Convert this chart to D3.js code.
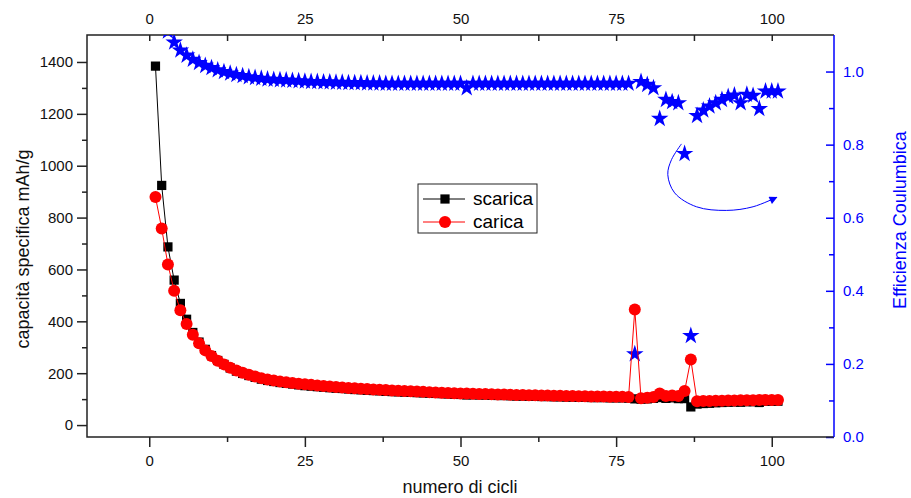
<!DOCTYPE html>
<html>
<head>
<meta charset="utf-8">
<script src="https://cdn.jsdelivr.net/npm/d3@7"></script>
<style>
  body { margin: 0; background: #fff; }
  text { font-family: "Liberation Sans", Arial, sans-serif; }
</style>
</head>
<body>
<svg id="chart" width="911" height="498"></svg>
<script>
// numero di cicli 1..101
let cycles = d3.range(1, 102);

// capacità di scarica (mAh/g)
let scarica = [1384, 924, 687, 559, 469, 408, 357, 320, 292, 268,
  249, 234, 220, 208, 199, 191, 184, 177, 172, 168,
  164, 161, 158, 155, 152, 150, 148, 146, 144, 142,
  141, 139, 137, 136, 134, 133, 132, 130, 129, 128,
  127, 126, 125, 124, 123, 122, 121, 120, 119, 118,
  116, 117, 116, 116, 115, 114, 114, 113, 112, 112,
  111, 111, 110, 110, 109, 109, 108, 108, 107, 107,
  106, 106, 106, 105, 105, 105, 104, 101, 100, 101,
  103, 106, 103, 105, 102, 102, 70, 81, 83, 84,
  86, 87, 88, 89, 88, 90, 90, 87, 92, 92, 92];

// capacità di carica (mAh/g)
let carica = [879, 758, 619, 518, 443, 390, 348, 315, 288, 266,
  248, 234, 221, 210, 202, 194, 187, 181, 176, 172,
  168, 165, 162, 159, 157, 155, 153, 151, 149, 147,
  145, 143, 142, 140, 139, 137, 136, 135, 133, 132,
  131, 130, 129, 128, 127, 126, 125, 124, 123, 122,
  122, 121, 120, 120, 119, 118, 118, 117, 116, 116,
  115, 115, 114, 114, 113, 113, 112, 112, 111, 111,
  110, 110, 110, 109, 109, 109, 108, 446, 103, 105,
  108, 122, 112, 114, 112, 131, 253, 92, 93, 93,
  94, 94, 95, 95, 96, 96, 96, 97, 97, 97, 97];

// efficienza coulumbica
let efficienza = [1.57, 1.22, 1.11, 1.080, 1.058, 1.044, 1.033, 1.024, 1.016, 1.010,
  1.004, 0.999, 0.995, 0.991, 0.988, 0.985, 0.983, 0.981, 0.979, 0.978,
  0.977, 0.976, 0.975, 0.974, 0.973, 0.972, 0.972, 0.971, 0.971, 0.970,
  0.970, 0.969, 0.969, 0.969, 0.968, 0.968, 0.968, 0.967, 0.967, 0.967,
  0.967, 0.967, 0.967, 0.967, 0.967, 0.967, 0.967, 0.967, 0.967, 0.967,
  0.955, 0.967, 0.967, 0.967, 0.967, 0.967, 0.967, 0.967, 0.967, 0.967,
  0.967, 0.967, 0.967, 0.967, 0.967, 0.967, 0.967, 0.967, 0.967, 0.967,
  0.967, 0.967, 0.967, 0.967, 0.967, 0.967, 0.967, 0.227, 0.972, 0.964,
  0.955, 0.871, 0.923, 0.917, 0.914, 0.775, 0.277, 0.879, 0.894, 0.905,
  0.914, 0.923, 0.931, 0.935, 0.914, 0.937, 0.934, 0.898, 0.946, 0.946, 0.946];

let xTicks = [0, 25, 50, 75, 100];
let yLeftTicks = [0, 200, 400, 600, 800, 1000, 1200, 1400];
let yRightTicks = [0, 0.2, 0.4, 0.6, 0.8, 1.0];

// freccia (in coordinate dei dati: ciclo, efficienza)
let arrowPts = [[85.5, 0.802], [83.9, 0.759], [83.3, 0.718], [84.4, 0.668],
  [87.9, 0.630], [92.7, 0.620], [97.0, 0.630], [100.8, 0.656]];

let svg = d3.select("#chart");
let mLeft = 87, mRight = 834, mTop = 35, mBottom = 437;

let x = d3.scaleLinear().domain([-10, 110]).range([mLeft, mRight]);
let yL = d3.scaleLinear().domain([-46, 1504]).range([mBottom, mTop]);
let yR = d3.scaleLinear().domain([0, 1.1]).range([mBottom, mTop]);

let defs = svg.append("defs");
defs.append("clipPath").attr("id", "clip")
  .append("rect").attr("x", mLeft).attr("y", mTop)
  .attr("width", mRight - mLeft).attr("height", mBottom - mTop);

defs.append("marker")
  .attr("id", "head").attr("viewBox", "0 0 10 10")
  .attr("refX", 9).attr("refY", 5)
  .attr("markerWidth", 10).attr("markerHeight", 8)
  .attr("markerUnits", "userSpaceOnUse")
  .attr("orient", "auto")
  .append("path").attr("d", "M0,0 L10,5 L0,10 Z").attr("fill", "#0000ff");

let fontTick = "15px";
let axisColor = "#222";

// asse inferiore
svg.append("g").attr("transform", `translate(0,${mBottom})`)
  .call(d3.axisBottom(x).tickValues(xTicks).tickSize(10).tickPadding(8).tickFormat(d3.format("d")));
svg.append("g").attr("transform", `translate(0,${mBottom})`)
  .call(d3.axisBottom(x).tickValues([12.5, 37.5, 62.5, 87.5]).tickSize(5).tickFormat(""));

// asse superiore
svg.append("g").attr("transform", `translate(0,${mTop})`)
  .call(d3.axisTop(x).tickValues(xTicks).tickSizeInner(-6).tickSizeOuter(0).tickPadding(11).tickFormat(d3.format("d")));
svg.append("g").attr("transform", `translate(0,${mTop})`)
  .call(d3.axisTop(x).tickValues([12.5, 37.5, 62.5, 87.5]).tickSizeInner(-6).tickSizeOuter(0).tickFormat(""));

// asse sinistro
svg.append("g").attr("transform", `translate(${mLeft},0)`)
  .call(d3.axisLeft(yL).tickValues(yLeftTicks).tickSize(10).tickPadding(4).tickFormat(d3.format("d")));
svg.append("g").attr("transform", `translate(${mLeft},0)`)
  .call(d3.axisLeft(yL).tickValues(d3.range(100, 1400, 200)).tickSize(5).tickFormat(""));

// asse destro (blu)
svg.append("g").attr("class", "blue").attr("transform", `translate(${mRight},0)`)
  .call(d3.axisRight(yR).tickValues(yRightTicks).tickSizeInner(-8).tickSizeOuter(0).tickPadding(9).tickFormat(d3.format(".1f")));
svg.append("g").attr("class", "blue").attr("transform", `translate(${mRight},0)`)
  .call(d3.axisRight(yR).tickValues([0.1, 0.3, 0.5, 0.7, 0.9]).tickSizeInner(-5).tickSizeOuter(0).tickFormat(""));

svg.selectAll(".domain").remove();
svg.selectAll(".tick line").attr("stroke", axisColor).attr("stroke-width", 1.5);
svg.selectAll(".tick text").style("font-size", fontTick).attr("fill", "#111");
svg.selectAll(".blue .tick line").attr("stroke", "#0000ff");
svg.selectAll(".blue .tick text").attr("fill", "#0000ff");

// cornice
svg.append("path")
  .attr("d", `M${mRight},${mTop} H${mLeft} V${mBottom} H${mRight}`)
  .attr("fill", "none").attr("stroke", axisColor).attr("stroke-width", 1.5);
svg.append("line").attr("x1", mRight).attr("x2", mRight).attr("y1", mTop).attr("y2", mBottom)
  .attr("stroke", "#0000ff").attr("stroke-width", 1.5);

// titoli degli assi
svg.append("text").attr("x", 460).attr("y", 493)
  .attr("text-anchor", "middle").style("font-size", "18px").attr("fill", "#111")
  .text("numero di cicli");
svg.append("text").attr("transform", "translate(29,249) rotate(-90)")
  .attr("text-anchor", "middle").style("font-size", "18px").attr("fill", "#111")
  .text("capacità specifica mAh/g");
svg.append("text").attr("transform", "translate(906,220) rotate(-90)")
  .attr("text-anchor", "middle").style("font-size", "18px").attr("fill", "#0000ff")
  .text("Efficienza Coulumbica");

let plot = svg.append("g").attr("clip-path", "url(#clip)");

// efficienza: stelle blu
let star = d3.symbol().type(d3.symbolStar).size(95);
plot.selectAll(".eff").data(cycles).join("path")
  .attr("class", "eff")
  .attr("transform", (d, i) => `translate(${x(d)},${yR(efficienza[i])})`)
  .attr("d", star).attr("fill", "#0000ff");

// scarica: linea nera con quadrati
let lineL = d3.line().x(d => x(d[0])).y(d => yL(d[1]));
plot.append("path").datum(cycles.map((c, i) => [c, scarica[i]]))
  .attr("d", lineL).attr("fill", "none").attr("stroke", "#000").attr("stroke-width", 1);
let square = d3.symbol().type(d3.symbolSquare).size(85);
plot.selectAll(".sq").data(cycles).join("path")
  .attr("class", "sq")
  .attr("transform", (d, i) => `translate(${x(d)},${yL(scarica[i])})`)
  .attr("d", square).attr("fill", "#000");

// carica: linea rossa con cerchi
plot.append("path").datum(cycles.map((c, i) => [c, carica[i]]))
  .attr("d", lineL).attr("fill", "none").attr("stroke", "#ff0000").attr("stroke-width", 1);
plot.selectAll(".ci").data(cycles).join("circle")
  .attr("class", "ci")
  .attr("cx", d => x(d)).attr("cy", (d, i) => yL(carica[i]))
  .attr("r", 6).attr("fill", "#ff0000");

// freccia
let arrowLine = d3.line().x(d => x(d[0])).y(d => yR(d[1])).curve(d3.curveCatmullRom);
svg.append("path").datum(arrowPts).attr("d", arrowLine)
  .attr("fill", "none").attr("stroke", "#0000ff").attr("stroke-width", 1)
  .attr("marker-end", "url(#head)");

// legenda
let lg = svg.append("g").attr("transform", "translate(418,184)");
lg.append("rect").attr("width", 119).attr("height", 49)
  .attr("fill", "#fff").attr("stroke", "#222").attr("stroke-width", 1);
lg.append("line").attr("x1", 5).attr("x2", 47).attr("y1", 15).attr("y2", 15).attr("stroke", "#000");
lg.append("path").attr("transform", "translate(27,15)").attr("d", square).attr("fill", "#000");
lg.append("text").attr("x", 55).attr("y", 21).style("font-size", "19px").text("scarica");
lg.append("line").attr("x1", 5).attr("x2", 47).attr("y1", 38).attr("y2", 38).attr("stroke", "#ff0000");
lg.append("circle").attr("cx", 27).attr("cy", 38).attr("r", 6).attr("fill", "#ff0000");
lg.append("text").attr("x", 55).attr("y", 44).style("font-size", "19px").text("carica");
</script>
</body>
</html>
